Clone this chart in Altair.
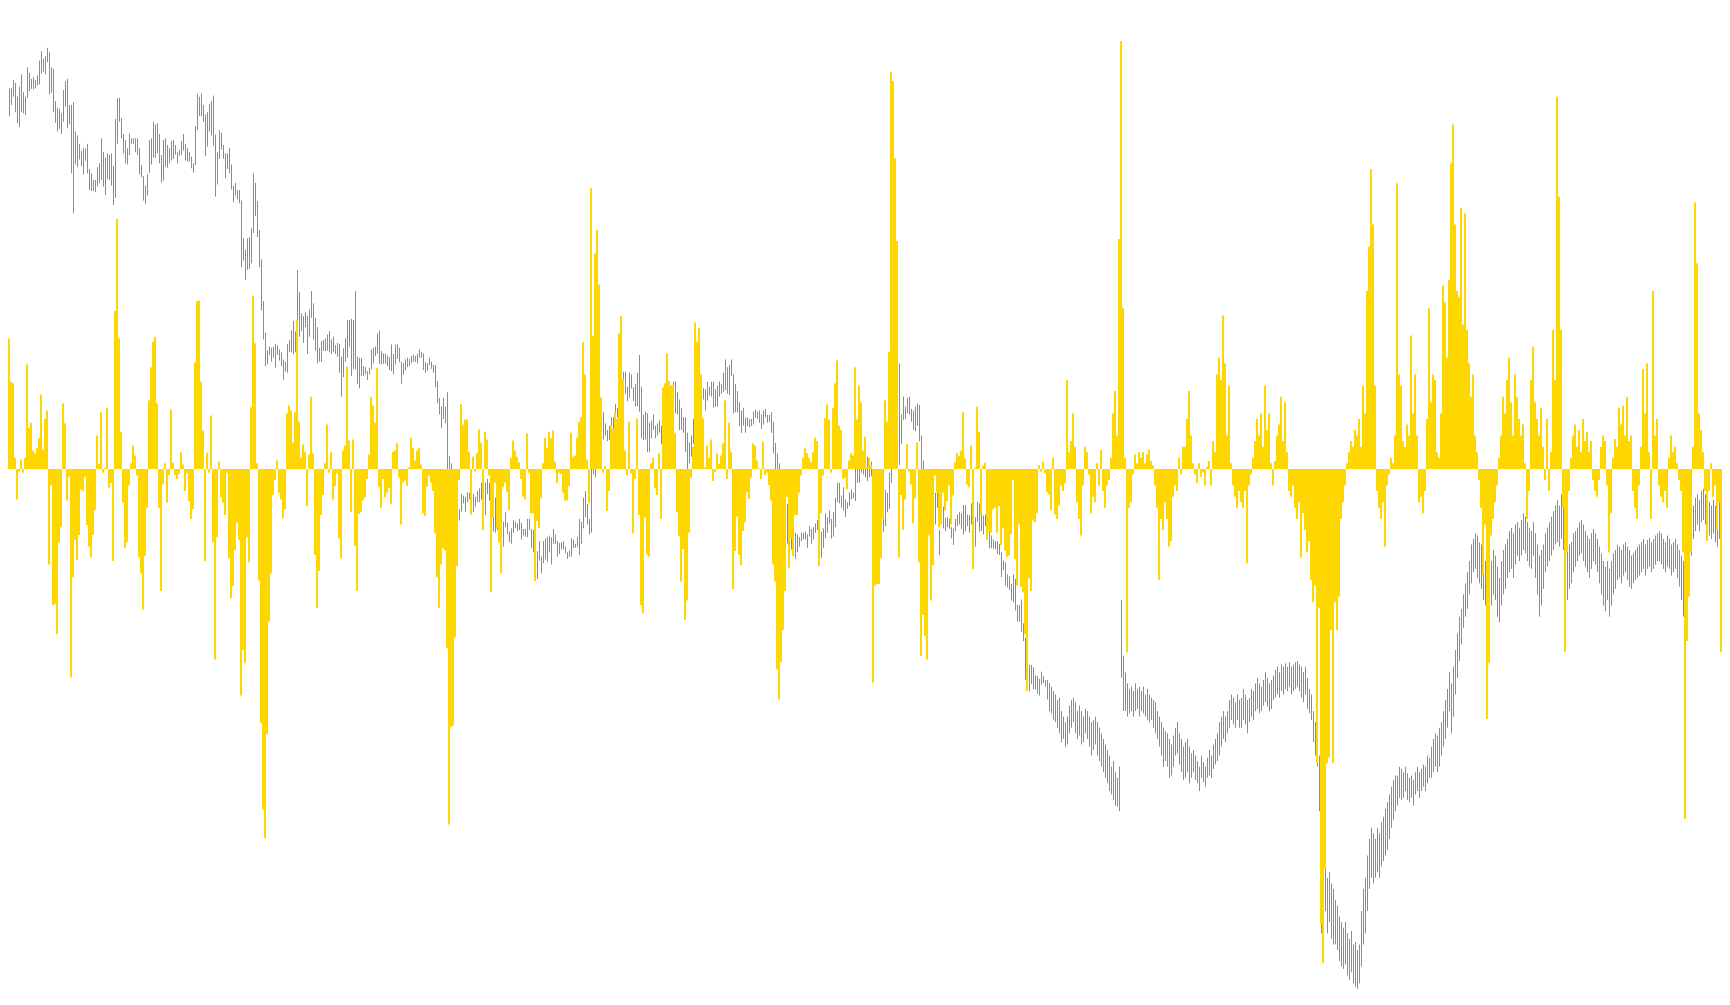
import altair as alt
import pandas as pd

# Histogram (oscillator) values, one per bar
hist = [
    -58,-28,-47,109,235,157,154,20,-55,-5,
    17,-7,20,188,74,83,33,28,38,55,
    134,35,90,105,-172,-30,-245,-243,-297,-132,
    -105,118,82,-57,-14,-375,-195,-128,-164,-119,
    -37,-40,-14,-101,-140,-159,-119,-74,60,9,
    103,-7,2,109,-34,-26,-166,284,450,235,
    67,-61,-143,-132,-30,
    10,42,24,-12,-159,-188,-253,-157,-70,123,
    183,229,238,118,-70,-220,-28,10,-61,-11,
    107,11,-11,-18,-9,31,8,-40,-8,-58,
    -90,-72,192,302,303,157,69,-166,29,-7,
    96,-132,-343,-123,13,-51,-61,-83,-7,-161,
    -233,-211,-146,-97,-128,-408,-326,-350,-123,-168,
    111,311,226,10,-201,-458,
    -613,-665,-477,-275,-188,-47,-20,15,-43,-55,
    -89,-72,100,114,105,47,102,267,85,20,
    44,31,-67,26,130,28,-155,-250,-184,-83,
    -47,10,80,-7,31,-55,-31,-8,-125,-161,
    33,42,184,51,-78,53,-139,-220,-81,-78,
    -57,-51,-18,26,130,114,83,181,-33,-70,
    -18,-51,-43,-34,-63,
    31,33,46,-16,-100,-25,-21,-31,3,56,
    38,15,33,38,8,-80,-85,-32,-12,-25,
    -40,-116,-195,-250,-172,-143,-147,-323,-640,-465,
    -462,-303,-175,-20,117,80,89,89,31,-82,
    22,-5,29,71,47,-110,67,53,-12,-222,
    -88,-25,-107,-132,-188,-33,-25,-42,-74,20,
    51,33,22,12,-18,-50,
    -55,64,-7,-80,-80,-202,-94,-107,-53,10,
    56,38,67,55,69,13,-26,-7,-9,-43,
    -57,-57,-31,65,22,24,56,85,93,228,
    170,17,-62,505,239,388,430,332,129,-7,
    5,-76,-40,79,72,102,90,244,275,162,
    33,-12,85,-8,-116,-18,91,-83,-245,-260,
    -88,-154,-158,10,20,-35,
    -47,28,-90,147,154,208,158,150,150,65,
    -78,-121,-203,-144,-272,-237,-115,-16,40,264,
    229,253,170,91,3,42,20,53,-22,-5,
    28,9,24,46,123,-18,83,31,-216,-148,
    -86,-155,-173,-112,-96,-42,-54,-16,46,42,
    15,1,-18,49,-11,-7,-29,-57,-172,-203,
    -361,-415,-348,-290,-220,
    -50,-178,-125,-155,-83,-83,-43,-12,20,37,
    28,19,12,30,56,50,-175,-80,-12,91,
    116,89,-7,109,154,195,78,70,-18,-16,
    -37,15,28,24,183,89,150,120,33,58,
    3,20,7,-385,-210,-207,-207,-161,-90,123,
    85,211,714,698,559,410,-160,-47,-110,-55,
    45,-5,-28,-98,-53,47,
    -168,-337,-263,-301,-343,-120,-237,-173,-12,-43,
    -105,-100,-43,-75,-58,-30,-100,-48,12,29,
    23,33,102,19,-28,-33,42,-180,2,112,
    67,-82,5,11,-128,-113,-115,-73,-70,-115,
    -67,-137,-107,-147,-158,-156,-117,-20,-162,-210,
    -100,-212,-222,-298,-400,-197,-220,-93,-96,-80,
    7,-5,13,-8,-42,
    -46,-74,20,-82,-90,-66,-30,-40,-26,160,
    30,50,100,40,-60,-90,-120,-30,40,30,-10,-80,-50,-60,10,-30,34,-40,-70,
    -30,-20,20,100,140,60,414,770,290,20,-330,-70,-60,-10,26,10,30,
    20,30,10,26,34,14,6,-30,-70,-200,-90,-110,-60,-90,-140,-130,-50,-30,-40,20,-10,40,
    40,90,140,60,10,-10,-26,10,-14,-6,-30,4,14,-30,50,30,170,200,160,276,190,60,150,10,-30,-50,-70,-40,
    -60,-70,-40,-170,-30,-10,20,50,90,60,100,40,150,70,100,10,-30,14,60,80,130,50,120,30,-40,-50,-30,
    -70,-90,-60,-160,-80,-110,-150,-130,-200,-240,-210,-530,-250,-820,-890,-720,-530,-520,-290,-530,
    -240,-290,-230,-90,-60,-30,10,30,50,40,70,60,90,40,150,100,320,400,540,440,150,
    -40,-70,-90,-60,-140,-30,-10,20,10,60,514,170,150,50,40,80,60,240,100,170,
    60,-60,-50,-80,-40,90,290,120,170,160,30,20,100,330,300,200,340,
    550,620,440,320,310,470,260,460,250,190,130,170,60,30,-20,-70,-190,-100,-450,-350,
    -120,-90,-60,-30,20,60,130,
    100,160,200,120,60,170,130,90,60,80,10,-90,-40,160,220,120,90,60,110,40,
    -20,90,-40,30,250,160,670,490,250,-70,-330,-150,-40,
    20,60,80,40,70,30,90,50,66,30,50,-20,-40,-50,-20,40,60,50,-30,-150,
    -80,20,54,40,110,80,114,60,130,50,60,-40,-70,-90,-30,40,180,100,190,30,
    -90,320,60,90,-30,
    -50,-60,-40,-70,20,60,30,40,10,-20,-40,-150,-630,-310,-230,-150,40,480,370,100,
    70,30,-40,-130,-40,10,-50,-30,-110,-60,-330,-200,-210,-100,-60,
]

# Price bar highs
high = [
    1635,1670,1650,1695,1695,1695,1710,1705,1680,1698,
    1720,1688,1680,1733,1723,1712,1715,1710,1718,1745,
    1762,1748,1753,1768,1760,1733,1730,1672,1660,1658,
    1650,1692,1708,1712,1665,1665,1670,1617,1610,1595,
    1582,1587,1587,1595,1550,1542,1530,1530,1553,1560,
    1605,1580,1570,1578,1575,1578,1555,1640,1677,1678,
    1642,1613,1602,1587,1614,
    1605,1605,1605,1605,1587,1557,1537,1520,1540,1602,
    1605,1635,1630,1632,1613,1575,1602,1605,1593,1587,
    1600,1602,1593,1580,1584,1600,1613,1595,1587,1580,
    1572,1560,1627,1685,1680,1686,1665,1648,1652,1667,
    1672,1682,1612,1580,1620,1615,1593,1578,1578,1588,
    1558,1520,1525,1512,1512,1493,1425,1405,1425,1427,
    1443,1542,1525,1492,1440,1387,
    1312,1255,1223,1230,1228,1230,1235,1232,1225,1220,
    1207,1203,1235,1242,1259,1276,1257,1368,1328,1290,
    1285,1292,1285,1297,1330,1308,1282,1265,1228,1240,
    1242,1245,1252,1258,1243,1248,1233,1237,1235,1212,
    1227,1245,1278,1278,1280,1278,1330,1212,1210,1210,
    1195,1193,1186,1192,1225,1228,1230,1254,1259,1222,
    1218,1218,1214,1211,1234,
    1217,1234,1234,1228,1203,1200,1207,1210,1208,1213,
    1215,1213,1217,1225,1220,1218,1202,1200,1210,1203,
    1197,1197,1168,1138,1122,1138,1122,1148,1033,1020,
    1000,980,960,937,965,962,960,968,967,962,
    965,960,970,975,985,985,985,992,985,960,
    922,958,940,930,920,915,932,913,897,903,
    918,915,912,920,913,902,
    902,920,920,902,900,890,862,880,852,880,
    885,888,890,887,902,892,880,877,878,880,
    870,860,863,885,882,875,887,920,915,958,
    970,947,920,1030,1035,1040,1060,1075,1095,1112,
    1092,1080,1087,1103,1103,1127,1120,1150,1170,1185,
    1185,1158,1183,1180,1157,1163,1183,1215,1158,1107,
    1113,1110,1093,1097,1108,1088,
    1092,1097,1088,1110,1130,1145,1155,1160,1167,1168,
    1148,1135,1120,1103,1103,1075,1058,1070,1100,1130,
    1140,1150,1160,1155,1153,1167,1157,1167,1167,1153,
    1160,1167,1163,1183,1207,1193,1197,1207,1180,1163,
    1150,1130,1115,1120,1102,1103,1100,1100,1113,1117,
    1113,1115,1108,1115,1118,1107,1107,1112,1095,1057,
    1038,1020,1000,980,970,
    947,930,905,885,895,892,887,895,895,897,
    892,907,902,905,912,918,895,897,903,930,
    923,935,920,932,958,985,985,962,977,955,
    950,968,973,967,1030,1020,1025,1020,1025,1020,
    1032,1025,1023,1000,990,980,970,965,950,972,
    967,1003,1040,1080,1120,1160,1200,1108,1140,1122,
    1138,1140,1118,1115,1122,1127,
    1125,1070,1025,1010,1005,1000,990,980,967,967,
    900,940,942,922,923,920,905,903,920,928,
    932,930,945,945,928,927,948,930,923,951,
    948,933,926,928,920,897,890,883,880,880,
    875,860,845,842,820,817,803,820,812,765,
    765,775,732,706,680,657,657,653,638,637,
    632,645,637,630,630,
    624,618,610,604,594,598,574,564,554,564,
    584,594,598,590,574,584,574,564,578,574,564,554,558,564,554,544,534,524,514,
    504,494,474,484,464,454,474,774,674,644,624,614,618,610,624,614,618,
    610,618,604,614,604,598,594,590,574,564,554,544,538,534,524,514,530,544,554,534,524,510,
    518,524,510,498,504,494,484,474,494,482,474,490,504,494,514,524,534,554,564,574,
    564,574,594,604,598,590,604,594,
    598,614,604,594,598,614,610,624,634,624,618,630,644,634,624,630,638,648,654,644,
    658,654,660,654,662,654,658,
    662,664,658,654,644,654,634,614,604,574,554,530,494,
    314,304,294,274,284,264,254,234,224,204,
    194,184,194,174,164,178,154,158,144,154,
    214,254,274,314,344,364,354,344,
    364,354,374,384,398,410,424,438,450,458,458,
    474,470,464,474,462,454,458,450,464,474,464,470,478,474,494,490,510,524,534,530,
    544,554,574,594,614,644,
    624,654,684,714,744,758,784,804,824,844,874,884,894,890,878,874,854,844,834,824,
    844,864,854,834,814,844,864,
    874,884,898,904,894,910,914,904,918,930,924,914,904,898,914,894,874,854,864,874,
    894,904,914,924,934,944,954,944,964,954,934,894,874,
    878,894,898,904,914,918,910,898,890,884,894,902,894,884,870,858,844,834,844,830,
    844,858,864,874,870,864,874,878,870,864,854,858,864,870,874,878,884,874,882,886,
    878,884,890,894,898,
    894,884,878,890,884,874,878,884,874,864,854,844,834,864,894,924,944,958,964,954,
    970,974,964,958,950,944,954,944,934,950,938,944,934,944,934,
]

# Price bar lows
low = [
    1605,1610,1595,1600,1645,1665,1680,1652,1632,1625,
    1652,1650,1647,1678,1690,1694,1693,1695,1700,1702,
    1722,1725,1720,1742,1684,1687,1652,1633,1617,1622,
    1613,1635,1662,1623,1630,1542,1470,1558,1553,1567,
    1555,1540,1565,1542,1512,1510,1510,1508,1518,1525,
    1530,1518,1503,1532,1530,1520,1485,1498,1595,1635,
    1605,1578,1560,1558,1575,
    1595,1595,1580,1575,1540,1535,1493,1487,1502,1543,
    1558,1570,1570,1578,1560,1525,1529,1554,1552,1560,
    1565,1568,1576,1560,1574,1575,1583,1565,1563,1563,
    1551,1543,1557,1620,1645,1645,1635,1573,1590,1617,
    1610,1592,1500,1522,1568,1585,1568,1533,1550,1542,
    1513,1490,1502,1495,1488,1373,1385,1350,1368,1370,
    1380,1435,1465,1427,1373,1295,
    1243,1195,1198,1215,1203,1210,1192,1215,1205,1195,
    1170,1185,1183,1220,1220,1217,1220,1252,1248,1258,
    1237,1265,1217,1248,1282,1243,1223,1200,1203,1202,
    1222,1222,1223,1220,1217,1220,1217,1212,1183,1140,
    1175,1203,1210,1230,1177,1190,1189,1163,1155,1177,
    1177,1180,1170,1180,1189,1200,1213,1217,1199,1198,
    1199,1199,1195,1188,1186,
    1180,1198,1208,1202,1163,1180,1187,1193,1195,1200,
    1203,1202,1200,1210,1210,1188,1183,1187,1197,1190,
    1183,1157,1128,1108,1083,1100,1092,1010,1010,980,
    960,940,925,917,933,948,933,950,955,928,
    932,942,950,950,955,940,927,965,953,920,
    897,895,900,890,880,870,905,892,878,875,
    895,903,898,900,883,890,
    888,887,900,868,860,850,812,845,822,840,
    847,843,860,838,875,875,852,857,865,865,
    858,848,852,852,868,868,870,855,875,903,
    923,910,892,895,1000,995,1015,1030,1050,1063,
    1070,1060,1062,1082,1082,1100,1102,1110,1130,1150,
    1145,1132,1138,1155,1132,1122,1123,1113,1065,1062,
    1063,1040,1040,1065,1080,1065,
    1070,1075,1055,1080,1095,1110,1125,1130,1132,1110,
    1108,1080,1080,1075,1040,1010,1020,1032,1055,1090,
    1110,1120,1125,1135,1115,1133,1142,1140,1120,1122,
    1122,1140,1145,1148,1152,1145,1143,1177,1110,1112,
    1112,1087,1075,1088,1075,1087,1085,1087,1090,1102,
    1100,1093,1082,1090,1103,1093,1094,1075,1038,1000,
    990,960,940,930,920,
    875,870,865,853,848,860,870,880,883,883,
    868,888,875,883,895,900,855,850,868,885,
    895,912,885,888,905,950,948,940,935,923,
    938,943,955,957,952,985,985,1003,1000,995,
    988,995,997,960,950,940,930,920,897,907,
    932,938,985,1020,1040,1060,1017,1055,1098,1100,
    1110,1108,1095,1080,1078,1088,
    1060,1000,990,980,970,950,940,930,910,940,
    855,915,903,898,905,902,885,873,898,907,
    910,902,892,898,907,895,910,880,870,915,
    897,898,892,907,890,867,867,867,865,857,
    855,815,828,800,797,792,773,770,755,735,
    735,717,700,630,620,610,623,613,613,605,
    602,622,625,618,595,
    574,570,558,554,544,534,518,524,510,514,
    534,544,554,534,524,530,514,518,534,524,510,494,504,514,494,484,474,464,454,
    444,430,424,414,404,402,394,634,574,574,564,570,574,564,574,578,564,
    574,570,564,558,554,558,544,534,524,510,494,474,484,474,454,458,474,494,498,478,464,450,
    454,464,444,454,464,450,444,430,454,446,438,454,458,454,470,478,484,494,510,524,
    518,534,544,558,550,544,558,544,
    544,558,550,534,554,564,558,574,578,570,574,584,590,582,574,578,594,598,604,598,
    610,604,614,610,618,604,610,
    614,618,610,598,590,604,578,570,558,518,494,474,394,
    174,184,214,174,194,164,154,154,144,124,
    114,110,118,98,90,104,84,78,74,84,
    114,154,174,214,254,274,264,274,
    284,274,294,304,314,324,344,364,378,394,404,
    418,414,418,430,414,410,418,404,424,430,418,430,438,430,444,454,454,464,474,464,
    474,494,510,524,544,574,
    534,564,604,634,664,694,724,744,758,784,804,824,830,814,804,794,774,764,754,734,
    764,784,774,744,734,764,784,
    794,814,824,830,814,838,854,844,854,864,858,844,834,830,854,814,784,744,764,794,
    824,834,844,854,864,874,878,870,884,864,814,774,794,
    804,824,834,844,854,858,844,834,824,814,830,844,838,824,804,784,764,754,774,744,
    764,784,794,810,814,804,818,824,810,798,794,804,810,814,818,824,830,818,830,834,
    824,830,838,844,844,
    838,830,824,834,830,818,824,830,814,798,774,744,714,764,814,854,884,898,910,898,
    914,918,910,898,890,884,894,878,870,884,864,874,854,870,844,
]

N_BARS = 865
n = min(len(hist), len(high), len(low))
df = pd.DataFrame({
    "bar": list(range(n)),
    "hist": hist[:n],
    "high": high[:n],
    "low": low[:n],
})
df["bar_end"] = df["bar"] + 1
df["mid"] = df["bar"] + 0.75
df["zero"] = 0

x_scale = alt.Scale(domain=[0, N_BARS], nice=False, zero=False)

price = alt.Chart(df).mark_rule(color="#00EE00", strokeWidth=1).encode(
    x=alt.X("mid:Q", scale=x_scale, axis=None),
    y=alt.Y("low:Q", scale=alt.Scale(domain=[59.4, 1854], nice=False, zero=False), axis=None),
    y2="high:Q",
)

histo = alt.Chart(df).mark_rect(color="#FFD700").encode(
    x=alt.X("bar:Q", scale=x_scale, axis=None),
    x2="bar_end:Q",
    y=alt.Y("zero:Q", scale=alt.Scale(domain=[-950.6, 844], nice=False, zero=False), axis=None),
    y2="hist:Q",
)

chart = (
    alt.layer(price, histo)
    .resolve_scale(y="independent")
    .properties(
        width=1730,
        height=997,
        padding={"left": -8, "top": -8, "right": -8, "bottom": -8},
        autosize="none",
        background="white",
    )
    .configure_view(strokeWidth=0)
)

chart.save("out.html", embed_options={"renderer": "svg", "actions": False})
